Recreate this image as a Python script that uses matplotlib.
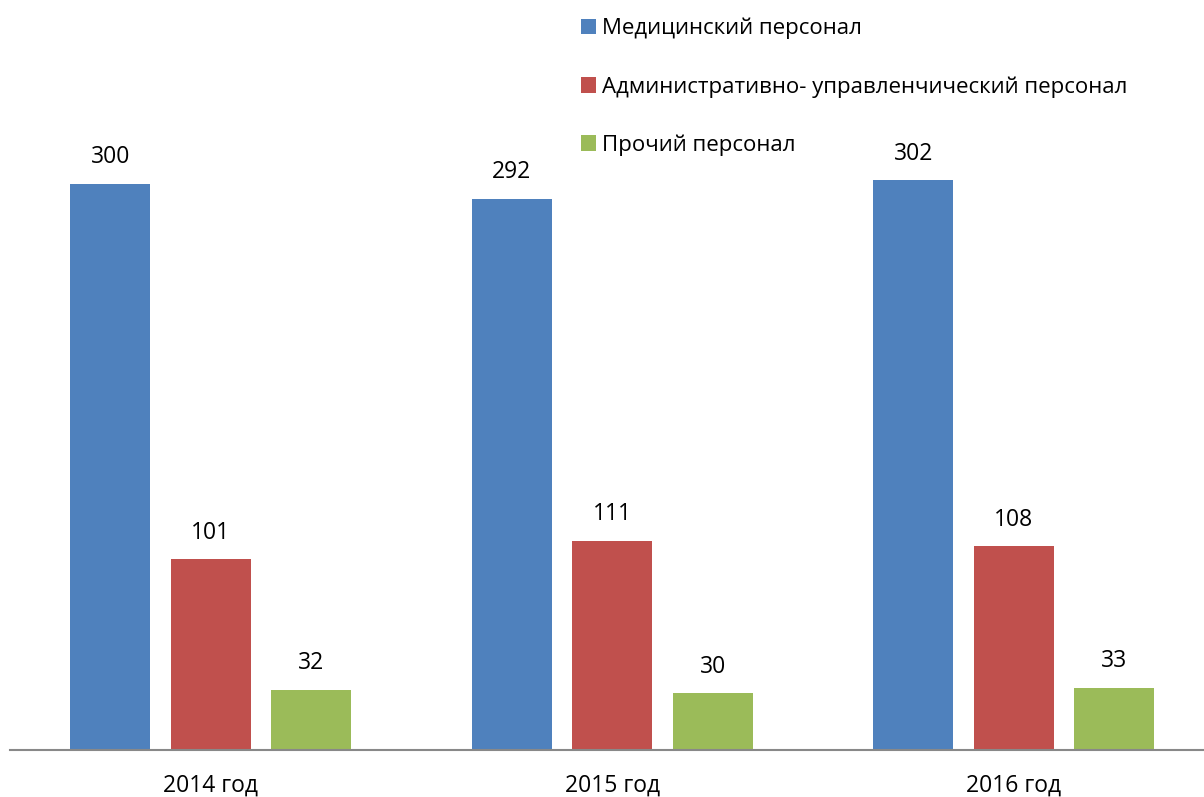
import matplotlib
matplotlib.use("Agg")
import matplotlib.pyplot as plt
import numpy as np

categories = ["2014 год", "2015 год", "2016 год"]
series_names = ["Медицинский персонал", "Административно- управленчический персонал", "Прочий персонал"]
medical = [300, 292, 302]
admin = [101, 111, 108]
other = [32, 30, 33]
colors = ["#4F81BD", "#C0504D", "#9BBB59"]

plt.rcParams['font.family'] = ['Open Sans', 'DejaVu Sans']

fig = plt.figure(figsize=(12.04, 7.97), dpi=100)
W, H = 1204, 797
ax = fig.add_axes([10 / W, 47 / H, 1204.5 / W, 750 / H])

x = np.arange(len(categories))
width = 0.199
offset = 0.25
handles = []
for i, (vals, name) in enumerate(zip([medical, admin, other], series_names)):
    bars = ax.bar(x + (i - 1) * offset, vals, width, color=colors[i], label=name)
    handles.append(bars)
    for b, v in zip(bars, vals):
        ax.annotate(str(v), (b.get_x() + b.get_width() / 2, v), xytext=(0, 10.5),
                    textcoords="offset points", ha="center", va="bottom", fontsize=16.5)

ax.set_xlim(-0.5, 2.5)
ax.set_ylim(0, 397.5)
for s in ["top", "right", "left"]:
    ax.spines[s].set_visible(False)
ax.spines["bottom"].set_color("#888888")
ax.spines["bottom"].set_linewidth(1.5)
ax.set_yticks([])
ax.set_xticks(x)
ax.set_xticklabels(categories, fontsize=16.5)
ax.tick_params(axis="x", length=0, pad=17)

leg = fig.legend(handles=handles, labels=series_names, loc="upper left",
                 bbox_to_anchor=(572 / W, 1 - 9 / H), frameon=False, fontsize=16,
                 handlelength=0.7, handleheight=0.7, handletextpad=0.25,
                 labelspacing=1.65, borderaxespad=0)

fig.savefig("out.png", dpi=100)
